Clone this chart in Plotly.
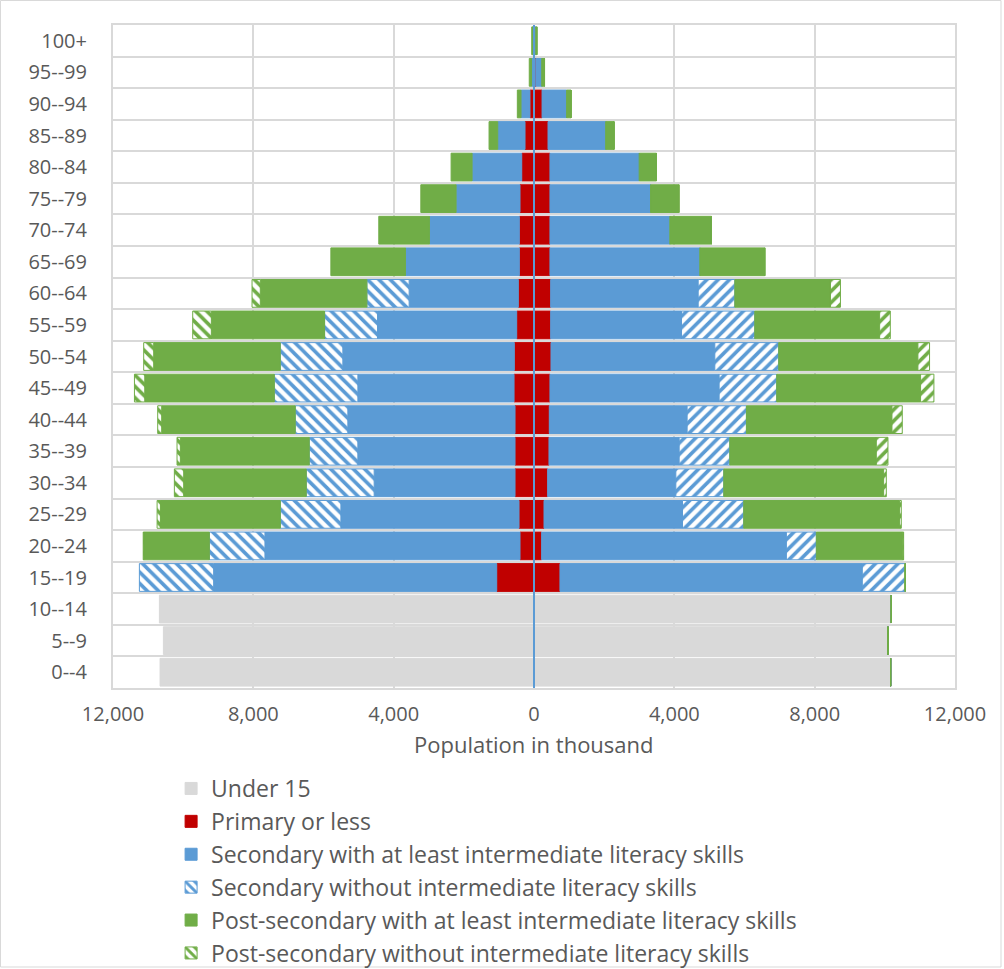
import plotly.graph_objects as go

ages = ["0--4", "5--9", "10--14", "15--19", "20--24", "25--29", "30--34", "35--39",
        "40--44", "45--49", "50--54", "55--59", "60--64", "65--69", "70--74", "75--79",
        "80--84", "85--89", "90--94", "95--99", "100+"]

# Values in thousands (ordered 0--4 ... 100+)
male_under15 = [10659, 10564, 10678, 0, 0, 0, 0, 0, 0, 0, 0, 0, 0, 0, 0, 0, 0, 0, 0, 0, 0]
male_primary = [0, 0, 0, 1063, 399, 427, 541, 541, 541, 569, 561, 493, 447, 418, 418, 399, 350, 256, 115, 20, 5]
male_sec_lit = [0, 0, 0, 8068, 7270, 5077, 4015, 4480, 4765, 4451, 4888, 3967, 3112, 3246, 2563, 1822, 1415, 778, 255, 50, 20]
male_sec_nolit = [0, 0, 0, 2117, 1585, 1727, 1936, 1386, 1500, 2383, 1784, 1509, 1204, 0, 0, 0, 0, 0, 0, 0, 0]
male_post_lit = [0, 0, 0, 0, 1870, 3417, 3493, 3673, 3806, 3692, 3607, 3227, 3038, 2126, 1443, 1005, 598, 247, 105, 65, 40]
male_post_nolit = [0, 0, 0, 0, 15, 95, 266, 95, 114, 294, 285, 532, 236, 0, 0, 0, 0, 0, 0, 0, 0]

female_under15 = [10165, 10090, 10185, 0, 0, 0, 0, 0, 0, 0, 0, 0, 0, 0, 0, 0, 0, 0, 0, 0, 0]
female_primary = [0, 0, 0, 740, 218, 285, 389, 427, 436, 455, 484, 475, 475, 455, 455, 455, 455, 400, 230, 50, 10]
female_sec_lit = [0, 0, 0, 8618, 6976, 3948, 3654, 3711, 3929, 4822, 4670, 3730, 4205, 4271, 3417, 2867, 2543, 1643, 700, 170, 40]
female_sec_nolit = [0, 0, 0, 1224, 854, 1746, 1367, 1443, 1690, 1642, 1822, 2088, 1045, 0, 0, 0, 0, 0, 0, 0, 0]
female_post_lit = [0, 0, 0, 0, 2468, 4442, 4556, 4176, 4148, 4100, 3967, 3559, 2725, 1851, 1187, 806, 493, 237, 125, 80, 30]
female_post_nolit = [0, 0, 0, 0, 20, 48, 76, 332, 294, 380, 332, 304, 285, 0, 0, 0, 0, 0, 0, 0, 0]

series_names = ["Under 15", "Primary or less",
                "Secondary with at least intermediate literacy skills",
                "Secondary without intermediate literacy skills",
                "Post-secondary with at least intermediate literacy skills",
                "Post-secondary without intermediate literacy skills"]

tick_vals = [-12000, -8000, -4000, 0, 4000, 8000, 12000]
tick_text = ["12,000", "8,000", "4,000", "0", "4,000", "8,000", "12,000"]
x_title = "Population in thousand"

GRAY = "#d9d9d9"
RED = "#c00000"
BLUE = "#5b9bd5"
GREEN = "#70ad47"
TXT = "#595959"
FONT = "Open Sans"

styles = [
    (GRAY, None),
    (RED, None),
    (BLUE, None),
    (BLUE, "hatch"),
    (GREEN, None),
    (GREEN, "hatch"),
]

male = [male_under15, male_primary, male_sec_lit, male_sec_nolit, male_post_lit, male_post_nolit]
female = [female_under15, female_primary, female_sec_lit, female_sec_nolit, female_post_lit, female_post_nolit]

fig = go.Figure()
for i, name in enumerate(series_names):
    color, kind = styles[i]
    for side, vals in (("m", male[i]), ("f", female[i])):
        x = [-v for v in vals] if side == "m" else list(vals)
        marker = dict(color=color, line=dict(color=color, width=1))
        if kind == "hatch":
            marker["pattern"] = dict(shape="\\" if side == "m" else "/",
                                     fgcolor=color, bgcolor="white",
                                     size=8, solidity=0.45, fillmode="replace")
        fig.add_trace(go.Bar(
            y=ages, x=x, orientation="h", name=name,
            marker=marker, legendgroup=name,
            showlegend=(side == "m"),
            hovertemplate="%{y}: %{customdata:,} thousand<extra>" + name + "</extra>",
            customdata=list(vals),
        ))

# zero (vertical axis) line drawn over the bars
fig.add_shape(type="line", xref="x", yref="paper", x0=0, x1=0, y0=0, y1=1,
              line=dict(color=BLUE, width=2), layer="above")

W, H = 1004, 969
ML, MR, MT, MB = 113, 49, 25, 281
PW, PH = W - ML - MR, H - MT - MB

# chart-area border
fig.add_shape(type="rect", xref="paper", yref="paper",
              x0=(0.5 - ML) / PW, x1=(1001 - ML) / PW,
              y0=(H - MB - 967) / PH, y1=(H - MB - 0.5) / PH,
              line=dict(color=GRAY, width=1), fillcolor="rgba(0,0,0,0)", layer="below")

fig.add_annotation(text=x_title, xref="paper", yref="paper", x=0.5, y=0,
                   xanchor="center", yanchor="top", yshift=-39, showarrow=False,
                   font=dict(size=22, color=TXT, family=FONT))

fig.update_layout(
    width=W, height=H,
    barmode="relative", bargap=0.12,
    paper_bgcolor="white", plot_bgcolor="white",
    font=dict(family=FONT, color=TXT),
    margin=dict(l=ML, r=MR, t=MT, b=MB, autoexpand=False),
    showlegend=True,
    legend=dict(orientation="v", x=0.069, xanchor="left",
                yref="container", y=1 - 767 / H, yanchor="top",
                bgcolor="rgba(0,0,0,0)",
                traceorder="normal", font=dict(size=23, color=TXT, family=FONT),
                tracegroupgap=0, itemclick="toggle"),
    xaxis=dict(range=[-12000, 12000], tickvals=tick_vals, ticktext=tick_text,
               showgrid=True, gridcolor=GRAY, gridwidth=2,
               zeroline=False, showline=True, linecolor=GRAY, linewidth=2, mirror=True,
               ticks="", ticklabelstandoff=7, tickfont=dict(size=20, color=TXT)),
    yaxis=dict(type="category", categoryorder="array", categoryarray=ages,
               tickson="boundaries", showgrid=True, gridcolor=GRAY, gridwidth=2,
               showline=True, linecolor=GRAY, linewidth=2, mirror=True,
               ticks="", ticklabelstandoff=20, tickfont=dict(size=20, color=TXT)),
)

fig.write_html("out.html", config={"displayModeBar": False},
               post_script="document.body.style.margin='0';")
